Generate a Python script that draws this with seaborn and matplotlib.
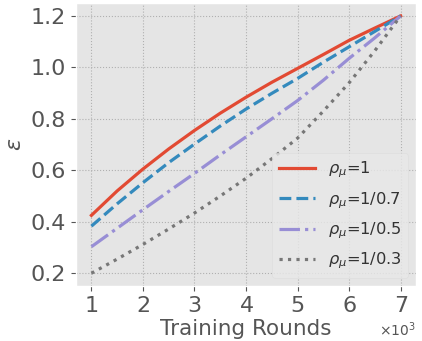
import numpy as np
import pandas as pd
import matplotlib
matplotlib.use("Agg")
import matplotlib.pyplot as plt
import seaborn as sns

rounds = [1000, 1500, 2000, 2500, 3000, 3500, 4000, 4500, 5000, 5500, 6000, 6500, 7000]
eps_rho_1 = [0.425, 0.52, 0.605, 0.683, 0.755, 0.822, 0.884, 0.942, 0.996, 1.05, 1.105, 1.153, 1.2]
eps_rho_07 = [0.383, 0.47, 0.552, 0.63, 0.702, 0.772, 0.838, 0.899, 0.957, 1.02, 1.08, 1.14, 1.2]
eps_rho_05 = [0.303, 0.375, 0.447, 0.518, 0.588, 0.66, 0.73, 0.80, 0.871, 0.95, 1.035, 1.115, 1.2]
eps_rho_03 = [0.2, 0.255, 0.312, 0.372, 0.434, 0.50, 0.569, 0.645, 0.725, 0.83, 0.94, 1.065, 1.2]

labels = [r"$\rho_\mu$=1", r"$\rho_\mu$=1/0.7", r"$\rho_\mu$=1/0.5", r"$\rho_\mu$=1/0.3"]
series = [eps_rho_1, eps_rho_07, eps_rho_05, eps_rho_03]
colors = ["#E24A33", "#348ABD", "#988ED5", "#777777"]
styles = ["-", "--", "-.", ":"]

plt.style.use("ggplot")
plt.rcParams["font.family"] = "DejaVu Sans"

fig, ax = plt.subplots(figsize=(4.22, 3.41), dpi=100)
fig.subplots_adjust(left=0.18, right=0.986, top=0.991, bottom=0.161)

for lab, vals, c, ls in zip(labels, series, colors, styles):
    df = pd.DataFrame({"rounds": rounds, "eps": vals})
    sns.lineplot(data=df, x="rounds", y="eps", ax=ax, color=c, linestyle=ls,
                 linewidth=2.3, label=lab)

ax.grid(True, color="#b0b0b0", linestyle=":", linewidth=0.8)
ax.set_facecolor("#E5E5E5")
ax.set_xticks([1000, 2000, 3000, 4000, 5000, 6000, 7000])
ax.set_yticks([0.2, 0.4, 0.6, 0.8, 1.0, 1.2])
ax.ticklabel_format(axis="x", style="sci", scilimits=(3, 3), useMathText=True)
ax.tick_params(axis="both", labelsize=16, colors="#555555")
ax.xaxis.get_offset_text().set_fontsize(10)
ax.set_xlabel("Training Rounds", fontsize=15.5, color="#555555", labelpad=2)
ax.set_ylabel(r"$\epsilon$", fontsize=16, color="#555555")

leg = ax.legend(loc="lower right", fontsize=11.7, handlelength=2.2, labelspacing=0.6,
                facecolor="#E8E8E8", edgecolor="#dddddd", framealpha=0.8)
for t in leg.get_texts():
    t.set_color("#333333")

plt.savefig("out.png", dpi=100)
plt.close()
